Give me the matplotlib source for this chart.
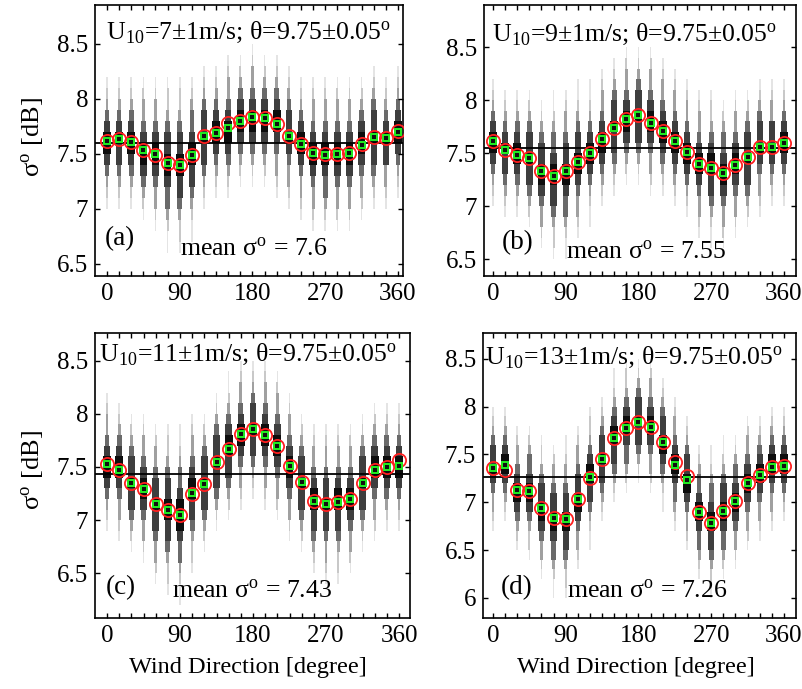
import numpy as np
import matplotlib
matplotlib.use('Agg')
import matplotlib.pyplot as plt
from matplotlib.patches import Rectangle

plt.rcParams['font.family'] = ['Liberation Serif', 'DejaVu Serif']
plt.rcParams['mathtext.fontset'] = 'stix'

W, H = 803, 689

directions = list(range(0, 361, 15))

# red circles (bin means)
mean_a = [7.62, 7.63, 7.61, 7.53, 7.49, 7.42, 7.40, 7.49, 7.66, 7.69, 7.78, 7.80, 7.83,
          7.82, 7.77, 7.66, 7.59, 7.51, 7.50, 7.50, 7.51, 7.59, 7.65, 7.64, 7.71]
mean_b = [7.62, 7.53, 7.48, 7.45, 7.33, 7.28, 7.33, 7.42, 7.50, 7.63, 7.74, 7.82, 7.86,
          7.79, 7.71, 7.62, 7.51, 7.40, 7.36, 7.31, 7.39, 7.46, 7.56, 7.56, 7.60]
mean_c = [7.53, 7.47, 7.35, 7.29, 7.15, 7.10, 7.05, 7.25, 7.34, 7.55, 7.67, 7.81, 7.86,
          7.80, 7.70, 7.51, 7.36, 7.18, 7.15, 7.17, 7.20, 7.35, 7.47, 7.50, 7.57]
mean_d = [7.36, 7.34, 7.13, 7.12, 6.94, 6.84, 6.82, 7.03, 7.25, 7.45, 7.67, 7.78, 7.84,
          7.79, 7.63, 7.42, 7.27, 6.90, 6.78, 6.91, 7.01, 7.20, 7.29, 7.37, 7.38]

# green markers (bin medians)
med_a = [7.62, 7.63, 7.61, 7.53, 7.50, 7.42, 7.40, 7.49, 7.66, 7.69, 7.73, 7.80, 7.83,
         7.82, 7.77, 7.66, 7.59, 7.51, 7.49, 7.50, 7.51, 7.58, 7.65, 7.64, 7.70]
med_b = mean_b
med_c = [7.53, 7.47, 7.35, 7.29, 7.15, 7.10, 7.05, 7.26, 7.34, 7.55, 7.67, 7.81, 7.86,
         7.80, 7.70, 7.51, 7.36, 7.18, 7.15, 7.17, 7.20, 7.35, 7.47, 7.50, 7.51]
med_d = [7.36, 7.39, 7.13, 7.12, 6.94, 6.84, 6.82, 7.03, 7.26, 7.45, 7.67, 7.78, 7.84,
         7.79, 7.63, 7.39, 7.23, 6.90, 6.78, 6.91, 7.01, 7.20, 7.29, 7.37, 7.38]

# spread of the sigma0 distribution in each direction bin [dB]
spread_a = [0.20, 0.20, 0.21, 0.22, 0.24, 0.26, 0.27, 0.25, 0.22, 0.21, 0.21, 0.21, 0.21,
            0.21, 0.21, 0.21, 0.22, 0.23, 0.24, 0.24, 0.23, 0.22, 0.21, 0.20, 0.20]
spread_b = [0.20, 0.20, 0.21, 0.22, 0.24, 0.26, 0.27, 0.25, 0.22, 0.22, 0.22, 0.22, 0.23,
            0.23, 0.22, 0.22, 0.22, 0.23, 0.24, 0.24, 0.23, 0.22, 0.21, 0.20, 0.20]
spread_c = [0.21, 0.21, 0.22, 0.23, 0.25, 0.27, 0.28, 0.25, 0.23, 0.23, 0.23, 0.23, 0.23,
            0.23, 0.23, 0.23, 0.23, 0.24, 0.25, 0.25, 0.24, 0.23, 0.22, 0.21, 0.21]
spread_d = [0.21, 0.21, 0.22, 0.23, 0.25, 0.27, 0.28, 0.26, 0.24, 0.23, 0.23, 0.23, 0.23,
            0.23, 0.23, 0.24, 0.24, 0.25, 0.26, 0.25, 0.24, 0.23, 0.22, 0.21, 0.21]

overall_mean = [7.60, 7.55, 7.43, 7.26]
wind_speed = [7, 9, 11, 13]
letters = ['a', 'b', 'c', 'd']
mean_labels = ['7.6', '7.55', '7.43', '7.26']

ylims = [(6.39, 8.85), (6.34, 8.90), (6.08, 8.76), (5.79, 8.77)]
yticks = [[6.5, 7, 7.5, 8, 8.5], [6.5, 7, 7.5, 8, 8.5], [6.5, 7, 7.5, 8, 8.5],
          [6, 6.5, 7, 7.5, 8, 8.5]]

# layout (pixels)
boxes = [(95, 403, 5, 276), (484, 796, 5, 276), (95, 410, 333, 618), (483, 796, 333, 618)]
x0x360 = [(107, 398), (493, 784), (107, 399), (493, 784)]
title_pos = [(106, 33), (492, 35), (99, 355), (485, 358)]
letter_pos = [(105, 239), (502, 243), (106, 588), (501, 588)]
meantxt_pos = [(180, 250), (566, 253), (172, 592), (567, 592)]

means = [mean_a, mean_b, mean_c, mean_d]
meds = [med_a, med_b, med_c, med_d]
spreads = [spread_a, spread_b, spread_c, spread_d]

fig = plt.figure(figsize=(W / 100, H / 100), dpi=100)

# density level -> (threshold, colour, width in degrees)
levels = [(0.93, '#0d0d0d', 9.5), (0.62, '#3e3e3e', 8.0), (0.35, '#6a6a6a', 5.8),
          (0.13, '#a0a0a0', 3.6), (0.045, '#c8c8c8', 2.4), (0.012, '#e4e4e4', 1.9)]

for i in range(4):
    l, r, t, b = boxes[i]
    ax = fig.add_axes([l / W, 1 - b / H, (r - l) / W, (b - t) / H])
    p0, p360 = x0x360[i]
    scale = (p360 - p0) / 360.0
    ax.set_xlim((l - p0) / scale, (r - p0) / scale)
    ax.set_ylim(*ylims[i])
    dy = 0.1
    centers = np.arange(5.55, 9.2, dy)
    for d, m, s in zip(directions, meds[i], spreads[i]):
        for yc in centers:
            dens = np.exp(-0.5 * ((yc - m) / s) ** 2)
            for thr, col, wdeg in levels:
                if dens >= thr:
                    ax.add_patch(Rectangle((d - wdeg / 2, yc - dy / 2), wdeg, dy,
                                           facecolor=col, edgecolor='none', zorder=1))
                    break
    ax.axhline(overall_mean[i], color='black', lw=1.3, zorder=2)
    ax.plot(directions, means[i], 'o', ms=9.5, mfc='none', mec='#ff2020', mew=1.3, zorder=3)
    ax.plot(directions, meds[i], 's', ms=4.5, mfc='#101010', mec='#22ee22', mew=1.4, zorder=4)

    ax.set_xticks([0, 90, 180, 270, 360])
    ax.set_xticks(directions, minor=True)
    ax.set_yticks(yticks[i])
    ax.set_yticklabels(['%g' % v for v in yticks[i]])
    ax.tick_params(which='both', direction='in', top=True, right=True, length=3.5,
                   width=1, labelsize=18, pad=5)
    for sp in ax.spines.values():
        sp.set_linewidth(1.2)

    tx, ty = title_pos[i]
    fig.text(tx / W, 1 - ty / H,
             'U$_{\\mathregular{10}}$=%d±1m/s; θ=9.75±0.05$^{\\mathregular{o}}$' % wind_speed[i],
             fontsize=18.5, va='center', ha='left')
    lx, ly = letter_pos[i]
    fig.text(lx / W, 1 - ly / H, '(%s)' % letters[i], fontsize=19.5, va='center', ha='left')
    mx, my = meantxt_pos[i]
    fig.text(mx / W, 1 - my / H, 'mean σ$^{\\mathregular{o}}$ = %s' % mean_labels[i],
             fontsize=18.5, va='center', ha='left')

fig.text(33 / W, 1 - 137 / H, 'σ$^{\\mathregular{o}}$ [dB]', rotation=90, fontsize=19,
         va='center', ha='center')
fig.text(33 / W, 1 - 470 / H, 'σ$^{\\mathregular{o}}$ [dB]', rotation=90, fontsize=19,
         va='center', ha='center')
fig.text(248 / W, 1 - 668 / H, 'Wind Direction [degree]', fontsize=17.5, va='center', ha='center')
fig.text(636 / W, 1 - 668 / H, 'Wind Direction [degree]', fontsize=17.5, va='center', ha='center')

fig.savefig('out.png', dpi=100)
